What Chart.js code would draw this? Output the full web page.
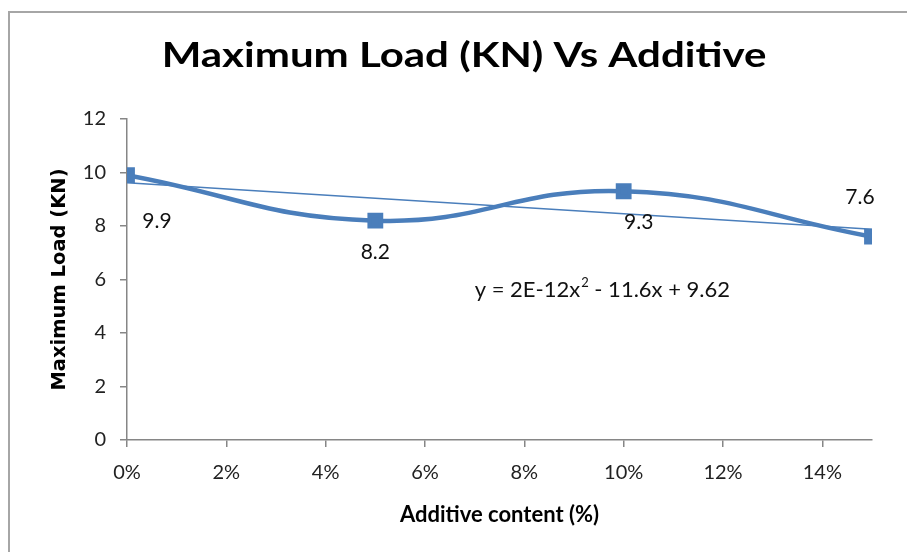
<!DOCTYPE html>
<html>
<head>
<meta charset="utf-8">
<script src="https://cdn.jsdelivr.net/npm/chart.js@4.4.0/dist/chart.umd.min.js"></script>
<style>
  html, body { margin: 0; padding: 0; background: #fff; }
  #wrap { position: relative; width: 907px; height: 552px; overflow: hidden; }
  #frame { position: absolute; left: 8px; top: 11px; right: -4px; bottom: -4px;
           border-left: 2px solid #a6a6a6; border-top: 2px solid #a6a6a6; }
  canvas { position: absolute; left: 0; top: 0; }
</style>
</head>
<body>
<div id="wrap">
  <div id="frame"></div>
  <canvas id="loadChart" width="907" height="552"></canvas>
</div>
<script>
// additive content (%) and max load (KN)
const additive = [0, 5, 10, 15];
const maxLoad = [9.9, 8.2, 9.3, 7.6];
const dataLabels = ['9.9', '8.2', '9.3', '7.6'];
// trendline shown on the chart: y = a*x^2 + b*x + c (x as a fraction)
const trendCoef = { a: 2e-12, b: -11.6, c: 9.62 };
const xTicks = [0, 2, 4, 6, 8, 10, 12, 14];
const yTicks = [0, 2, 4, 6, 8, 10, 12];

const blue = '#4a7ebb';
const fontFam = 'Lato, "Open Sans", sans-serif';

const trendX = [additive[0], additive[additive.length - 1]];
const trendPts = trendX.map(x => {
  const f = x / 100;
  return { x: x, y: trendCoef.a * f * f + trendCoef.b * f + trendCoef.c };
});

// offsets of the data labels from their points
const labelOffsets = [[30, 46], [0, 32], [15, 31], [-12, -39]];

const extras = {
  id: 'extras',
  afterDatasetsDraw(chart) {
    const c = chart.ctx;
    const meta = chart.getDatasetMeta(1);
    c.save();
    c.fillStyle = '#111';
    c.font = '21px ' + fontFam;
    c.textAlign = 'center';
    c.textBaseline = 'middle';
    meta.data.forEach((pt, i) => {
      c.fillText(dataLabels[i], pt.x + labelOffsets[i][0], pt.y + labelOffsets[i][1]);
    });
    // trendline equation
    const xs = chart.scales.x, ys = chart.scales.y;
    let ex = xs.getPixelForValue(7.0), ey = ys.getPixelForValue(5.6);
    c.textAlign = 'left';
    c.font = '22px ' + fontFam;
    const p1 = 'y = 2E-12x';
    c.fillText(p1, ex, ey);
    let w = c.measureText(p1).width;
    c.font = '13px ' + fontFam;
    c.fillText('2', ex + w + 1, ey - 7);
    w += c.measureText('2').width + 1;
    c.font = '22px ' + fontFam;
    c.fillText(' - 11.6x + 9.62', ex + w, ey);
    // chart title, stretched a little like the original
    c.font = 'bold 35px ' + fontFam;
    c.textAlign = 'center';
    c.fillStyle = '#000';
    c.translate(464, 56);
    c.scale(1.2, 1);
    c.fillText('Maximum Load (KN) Vs Additive', 0, 0);
    c.restore();
  }
};

new Chart(document.getElementById('loadChart'), {
  type: 'scatter',
  data: {
    datasets: [
      {
        label: 'Linear trend',
        data: trendPts,
        showLine: true,
        borderColor: blue,
        borderWidth: 1.5,
        pointRadius: 0,
        tension: 0
      },
      {
        label: 'Maximum Load',
        data: additive.map((x, i) => ({ x: x, y: maxLoad[i] })),
        showLine: true,
        borderColor: blue,
        borderWidth: 4.5,
        tension: 0.45,
        pointStyle: 'rect',
        pointRadius: 8,
        pointBackgroundColor: blue,
        pointBorderColor: blue
      }
    ]
  },
  options: {
    responsive: false,
    animation: false,
    layout: { padding: { left: 48, right: 35, top: 119, bottom: 24 } },
    plugins: { legend: { display: false }, tooltip: { enabled: false }, title: { display: false } },
    scales: {
      x: {
        type: 'linear',
        min: 0,
        max: 15,
        afterBuildTicks: s => { s.ticks = xTicks.map(v => ({ value: v })); },
        afterFit: s => { s.height = 88; },
        border: { color: '#868686', width: 1.5 },
        grid: { drawOnChartArea: false, drawTicks: true, tickLength: 7, color: '#868686', lineWidth: 1.5 },
        ticks: { color: '#222', font: { family: fontFam, size: 20 }, padding: 14, callback: v => v + '%' },
        title: { display: true, text: 'Additive content (%)', color: '#000',
                 font: { family: fontFam, size: 22, weight: 'bold' }, padding: { top: 4, bottom: 0 } }
      },
      y: {
        min: 0,
        max: 12,
        afterBuildTicks: s => { s.ticks = yTicks.map(v => ({ value: v })); },
        afterFit: s => { s.width = 127 - 48; },
        border: { color: '#868686', width: 1.5 },
        grid: { drawOnChartArea: false, drawTicks: true, tickLength: 7, color: '#868686', lineWidth: 1.5 },
        ticks: { color: '#222', font: { family: fontFam, size: 20 }, padding: 14 },
        title: { display: true, text: 'Maximum Load (KN)', color: '#000',
                 font: { family: '"DejaVu Sans", sans-serif', size: 19.5, weight: 'bold' }, padding: 0 }
      }
    }
  },
  plugins: [extras]
});
</script>
</body>
</html>
